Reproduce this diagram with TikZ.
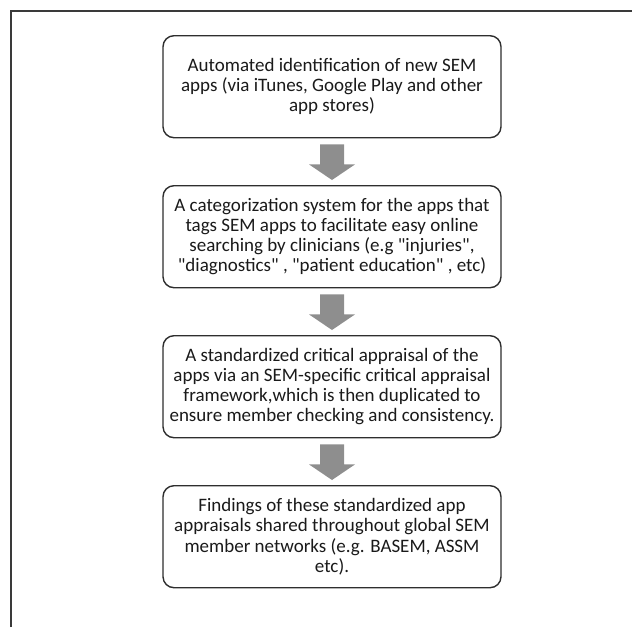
\documentclass[tikz,border=0pt]{standalone}
\usepackage{fontspec}
\setmainfont{Carlito}[Ligatures=TeXOff]
\usetikzlibrary{calc}
\definecolor{framecol}{HTML}{3A3A3A}
\definecolor{boxline}{HTML}{2E2E2E}
\definecolor{arrowgray}{HTML}{8E8E8E}
\definecolor{txt}{HTML}{1A1A1A}
\tikzset{
  stagebox/.style={draw=boxline, line width=1.4pt, rounded corners=11pt, fill=white,
    minimum width=338pt, minimum height=102pt, inner sep=0pt, align=center,
    text=txt, font=\fontsize{19}{20.2}\selectfont, anchor=north},
  blockarrow/.style={fill=arrowgray, draw=none},
  framestyle/.style={draw=framecol, line width=2pt}
}
\begin{document}
\begin{tikzpicture}[x=1pt, y=-1pt]
\useasboundingbox (0,0) rectangle (632,627);
\coordinate (fbl) at (11,627);
\coordinate (ftl) at (11,11);
\coordinate (ftr) at (632,11);
\draw[framestyle] (fbl) -- (ftl) -- (ftr);
\node[stagebox] (b1) at (332,35) {Automated identification of new SEM\\apps (via iTunes, Google Play and other\\app stores)};
\node[stagebox] (b2) at (332,185) {A categorization system for the apps that\\tags SEM apps to facilitate easy online\\searching by clinicians (e.g "injuries",\\"diagnostics" , "patient education" , etc)};
\node[stagebox] (b3) at (332,335) {A standardized critical appraisal of the\\apps via an SEM-specific critical appraisal\\framework,which is then duplicated to\\ensure member checking and consistency.};
\node[stagebox] (b4) at (332,485) {Findings of these standardized app\\appraisals shared throughout global SEM\\member networks (e.g. BASEM, ASSM\\etc).};
\foreach \a/\b in {b1/b2, b2/b3, b3/b4}{
  \fill[blockarrow] ($(\a.south)+(-12,6)$) -- ($(\a.south)+(12,6)$) -- ($(\a.south)+(12,26)$)
    -- ($(\a.south)+(23,26)$) -- ($(\b.north)+(0,-5)$) -- ($(\a.south)+(-23,26)$)
    -- ($(\a.south)+(-12,26)$) -- cycle;
}
\end{tikzpicture}
\end{document}
